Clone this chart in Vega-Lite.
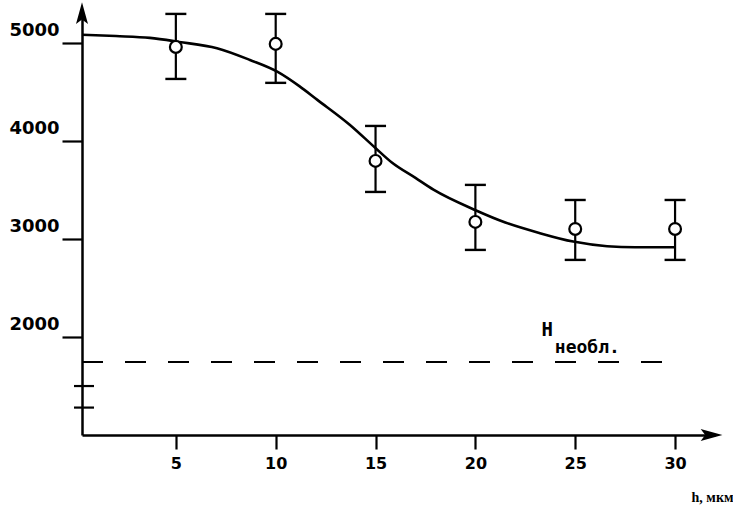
{
  "$schema": "https://vega.github.io/schema/vega-lite/v6.json",
  "width": 633,
  "height": 425,
  "autosize": {"type": "none"},
  "padding": {"left": 82, "top": 10, "right": 18, "bottom": 75},
  "background": "white",
  "config": {
    "view": {"stroke": null},
    "axis": {"grid": false, "domainColor": "black", "tickColor": "black", "labelColor": "black", "titleColor": "black", "domainWidth": 2.5, "tickWidth": 2.2, "labelOverlap": false},
    "axisX": {"tickSize": 14, "labelPadding": 6, "labelFont": "DejaVu Sans", "labelFontWeight": "bold", "labelFontSize": 16, "titleFont": "Liberation Serif", "titleFontWeight": "bold", "titleFontSize": 14, "titleX": 651, "titleY": 62, "titleAlign": "right", "titleBaseline": "middle"},
    "axisY": {"tickSize": 20, "labelPadding": 3, "labelOffset": -13, "labelFont": "DejaVu Sans", "labelFontWeight": "bold", "labelFontSize": 18}
  },
  "datasets": {
    "points": [
      {"h": 5, "H": 4963, "lo": 4636, "hi": 5300},
      {"h": 10, "H": 4994, "lo": 4596, "hi": 5300},
      {"h": 15, "H": 3799, "lo": 3482, "hi": 4156},
      {"h": 20, "H": 3176, "lo": 2890, "hi": 3554},
      {"h": 25, "H": 3104, "lo": 2788, "hi": 3400},
      {"h": 30, "H": 3104, "lo": 2788, "hi": 3400}
    ],
    "curve": [
      {"h": 0.3, "H": 5088},
      {"h": 2, "H": 5074},
      {"h": 3.7, "H": 5055},
      {"h": 5.16, "H": 5014},
      {"h": 7.06, "H": 4950},
      {"h": 8.71, "H": 4830},
      {"h": 10.1, "H": 4708},
      {"h": 11.2, "H": 4560},
      {"h": 12.07, "H": 4425},
      {"h": 13.72, "H": 4166},
      {"h": 14.97, "H": 3935},
      {"h": 15.8, "H": 3785},
      {"h": 17, "H": 3625},
      {"h": 17.9, "H": 3505},
      {"h": 19.98, "H": 3298},
      {"h": 21.5, "H": 3170},
      {"h": 23.2, "H": 3063},
      {"h": 24.9, "H": 2975},
      {"h": 26.6, "H": 2928},
      {"h": 28, "H": 2918},
      {"h": 30, "H": 2918}
    ],
    "ref": [{"h": 0.3, "h2": 30.3, "H": 1745}],
    "minor": [{"h": -0.1, "h2": 0.9, "H": 1500}, {"h": -0.1, "h2": 0.9, "H": 1280}],
    "arrowUp": [{"h": 0.3, "H": 5265}],
    "arrowRight": [{"h": 31.62, "H": 1000}],
    "hlabel": [{"h": 23.6, "H": 2072, "t": "H"}],
    "sublabel": [{"h": 23.98, "H": 1889, "t": "необл."}]
  },
  "layer": [
    {
      "data": {"name": "curve"},
      "mark": {"type": "line", "interpolate": "monotone", "color": "black", "strokeWidth": 2.6},
      "encoding": {
        "x": {"field": "h", "type": "quantitative", "scale": {"domain": [0.3, 32], "nice": false, "zero": false}, "axis": {"values": [5, 10, 15, 20, 25, 30], "title": "h, мкм"}},
        "y": {"field": "H", "type": "quantitative", "scale": {"domain": [1000, 5340], "nice": false, "zero": false}, "axis": {"values": [2000, 3000, 4000, 5000], "format": "d", "title": null}}
      }
    },
    {
      "data": {"name": "ref"},
      "mark": {"type": "rule", "color": "black", "strokeWidth": 2, "strokeDash": [21, 22]},
      "encoding": {
        "x": {"field": "h", "type": "quantitative", "scale": {"domain": [0.3, 32], "nice": false, "zero": false}, "axis": {"values": [5, 10, 15, 20, 25, 30], "title": "h, мкм"}},
        "x2": {"field": "h2"},
        "y": {"field": "H", "type": "quantitative", "scale": {"domain": [1000, 5340], "nice": false, "zero": false}, "axis": {"values": [2000, 3000, 4000, 5000], "format": "d", "title": null}}
      }
    },
    {
      "data": {"name": "minor"},
      "mark": {"type": "rule", "color": "black", "strokeWidth": 2.2},
      "encoding": {
        "x": {"field": "h", "type": "quantitative", "scale": {"domain": [0.3, 32], "nice": false, "zero": false}, "axis": {"values": [5, 10, 15, 20, 25, 30], "title": "h, мкм"}},
        "x2": {"field": "h2"},
        "y": {"field": "H", "type": "quantitative", "scale": {"domain": [1000, 5340], "nice": false, "zero": false}, "axis": {"values": [2000, 3000, 4000, 5000], "format": "d", "title": null}}
      }
    },
    {
      "data": {"name": "points"},
      "mark": {"type": "rule", "color": "black", "strokeWidth": 2.2},
      "encoding": {
        "x": {"field": "h", "type": "quantitative", "scale": {"domain": [0.3, 32], "nice": false, "zero": false}, "axis": {"values": [5, 10, 15, 20, 25, 30], "title": "h, мкм"}},
        "y": {"field": "lo", "type": "quantitative", "scale": {"domain": [1000, 5340], "nice": false, "zero": false}, "axis": {"values": [2000, 3000, 4000, 5000], "format": "d", "title": null}},
        "y2": {"field": "hi"}
      }
    },
    {
      "data": {"name": "points"},
      "transform": [{"fold": ["lo", "hi"], "as": ["k", "v"]}],
      "mark": {"type": "tick", "orient": "horizontal", "color": "black", "size": 21, "thickness": 2.4, "opacity": 1},
      "encoding": {
        "x": {"field": "h", "type": "quantitative", "scale": {"domain": [0.3, 32], "nice": false, "zero": false}, "axis": {"values": [5, 10, 15, 20, 25, 30], "title": "h, мкм"}},
        "y": {"field": "v", "type": "quantitative", "scale": {"domain": [1000, 5340], "nice": false, "zero": false}, "axis": {"values": [2000, 3000, 4000, 5000], "format": "d", "title": null}}
      }
    },
    {
      "data": {"name": "points"},
      "mark": {"type": "point", "shape": "circle", "filled": true, "fill": "white", "stroke": "black", "strokeWidth": 2.2, "size": 140, "opacity": 1},
      "encoding": {
        "x": {"field": "h", "type": "quantitative", "scale": {"domain": [0.3, 32], "nice": false, "zero": false}, "axis": {"values": [5, 10, 15, 20, 25, 30], "title": "h, мкм"}},
        "y": {"field": "H", "type": "quantitative", "scale": {"domain": [1000, 5340], "nice": false, "zero": false}, "axis": {"values": [2000, 3000, 4000, 5000], "format": "d", "title": null}}
      }
    },
    {
      "data": {"name": "arrowUp"},
      "mark": {"type": "point", "shape": "M0,-1L0.4,0.45L0,0.15L-0.4,0.45Z", "filled": true, "color": "black", "size": 900, "opacity": 1},
      "encoding": {
        "x": {"field": "h", "type": "quantitative", "scale": {"domain": [0.3, 32], "nice": false, "zero": false}, "axis": {"values": [5, 10, 15, 20, 25, 30], "title": "h, мкм"}},
        "y": {"field": "H", "type": "quantitative", "scale": {"domain": [1000, 5340], "nice": false, "zero": false}, "axis": {"values": [2000, 3000, 4000, 5000], "format": "d", "title": null}}
      }
    },
    {
      "data": {"name": "arrowRight"},
      "mark": {"type": "point", "shape": "M1,0L-0.45,0.4L-0.15,0L-0.45,-0.4Z", "filled": true, "color": "black", "size": 900, "opacity": 1},
      "encoding": {
        "x": {"field": "h", "type": "quantitative", "scale": {"domain": [0.3, 32], "nice": false, "zero": false}, "axis": {"values": [5, 10, 15, 20, 25, 30], "title": "h, мкм"}},
        "y": {"field": "H", "type": "quantitative", "scale": {"domain": [1000, 5340], "nice": false, "zero": false}, "axis": {"values": [2000, 3000, 4000, 5000], "format": "d", "title": null}}
      }
    },
    {
      "data": {"name": "hlabel"},
      "mark": {"type": "text", "font": "DejaVu Sans Mono", "fontWeight": "bold", "fontSize": 19, "align": "center", "baseline": "middle", "color": "black"},
      "encoding": {
        "x": {"field": "h", "type": "quantitative", "scale": {"domain": [0.3, 32], "nice": false, "zero": false}, "axis": {"values": [5, 10, 15, 20, 25, 30], "title": "h, мкм"}},
        "y": {"field": "H", "type": "quantitative", "scale": {"domain": [1000, 5340], "nice": false, "zero": false}, "axis": {"values": [2000, 3000, 4000, 5000], "format": "d", "title": null}},
        "text": {"field": "t"}
      }
    },
    {
      "data": {"name": "sublabel"},
      "mark": {"type": "text", "font": "DejaVu Sans Mono", "fontWeight": "bold", "fontSize": 18, "align": "left", "baseline": "middle", "color": "black"},
      "encoding": {
        "x": {"field": "h", "type": "quantitative", "scale": {"domain": [0.3, 32], "nice": false, "zero": false}, "axis": {"values": [5, 10, 15, 20, 25, 30], "title": "h, мкм"}},
        "y": {"field": "H", "type": "quantitative", "scale": {"domain": [1000, 5340], "nice": false, "zero": false}, "axis": {"values": [2000, 3000, 4000, 5000], "format": "d", "title": null}},
        "text": {"field": "t"}
      }
    }
  ]
}
